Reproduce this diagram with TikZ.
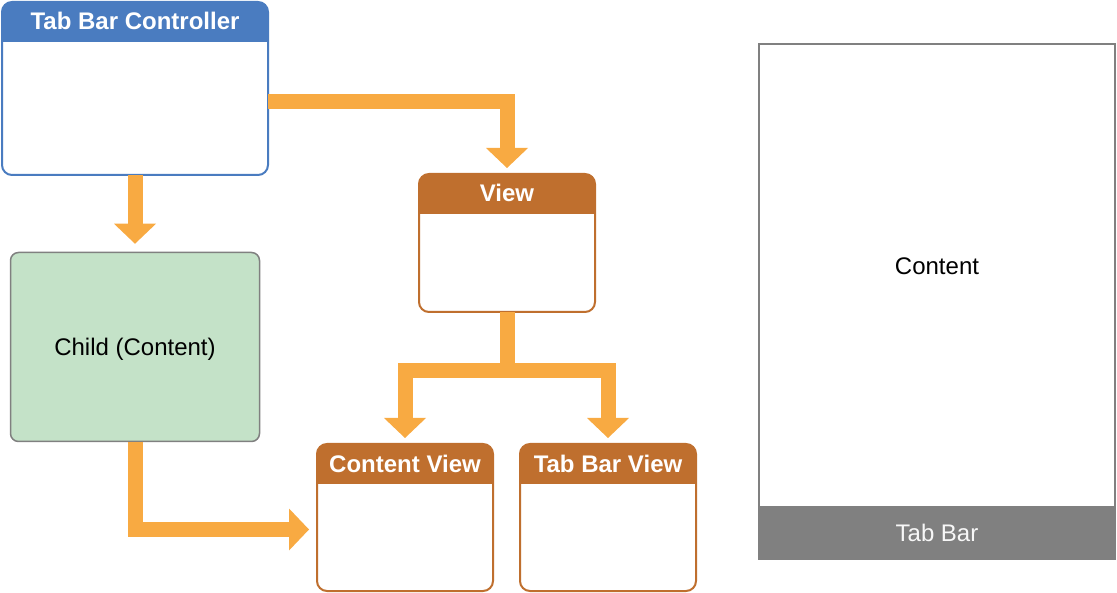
\documentclass[tikz,border=0pt]{standalone}
\usepackage{fontspec}
\setmainfont{Liberation Sans}
\usetikzlibrary{arrows.meta}
\definecolor{tbblue}{HTML}{4A7CC0}
\definecolor{vbrown}{HTML}{BF6F2E}
\definecolor{aorange}{HTML}{F8AA42}
\definecolor{cgreen}{HTML}{C4E2C8}
\definecolor{bgray}{HTML}{808080}
\begin{document}
\begin{tikzpicture}[x=1pt,y=-1pt,
  font=\fontsize{24}{28}\selectfont,
  win/.style={draw=#1, line width=2pt, rounded corners=10pt, fill=white,
    inner sep=0pt, outer sep=0pt,
    path picture={\fill[#1, sharp corners] (path picture bounding box.north west) rectangle
      ([yshift=-40pt]path picture bounding box.north east);}},
  wintitle/.style={anchor=base, text=white, inner sep=0pt,
    font=\fontsize{24}{28}\selectfont\bfseries},
  arr/.style={draw=aorange, line width=15pt, line join=miter,
    -{Triangle[width=42pt,length=20pt,line width=0pt]}}]
\useasboundingbox (0,0) rectangle (1117,593);

% windows
\node[win=tbblue, minimum width=266pt, minimum height=173pt] (tbc) at (135,88.5) {};
\node[wintitle] (tbct) at ([yshift=-28pt]tbc.north) {Tab Bar Controller};

\node[win=vbrown, minimum width=176pt, minimum height=138pt] (view) at (507,243) {};
\node[wintitle] (viewt) at ([yshift=-28pt]view.north) {View};

\node[win=vbrown, minimum width=176pt, minimum height=147pt] (cv) at (405,517.5) {};
\node[wintitle] (cvt) at ([yshift=-28pt]cv.north) {Content View};

\node[win=vbrown, minimum width=176pt, minimum height=147pt] (tbv) at (608,517.5) {};
\node[wintitle] (tbvt) at ([yshift=-28pt]tbv.north) {Tab Bar View};

\node[draw=bgray, line width=1.5pt, fill=cgreen, rounded corners=8pt,
  minimum width=249pt, minimum height=189pt, inner sep=0pt] (child) at (135,347) {};
\node[inner sep=0pt] (childt) at (135,349) {Child (Content)};

% phone
\node[draw=bgray, line width=2pt, fill=white, minimum width=356pt,
  minimum height=515pt, inner sep=0pt] (phone) at (937,301.5) {};
\node[fill=bgray, minimum width=358pt, minimum height=54pt, inner sep=0pt,
  text=white!97!black] (tabbar) at (937,533) {Tab Bar};
\node[inner sep=0pt] (content) at (937,266) {Content};

% connectors
\coordinate (yA) at (0,102);
\coordinate (yB) at (0,370.5);
\coordinate (yC) at (0,529.5);
\coordinate (cvin) at ([xshift=-8pt]cv.west);

\draw[arr] (tbc.south) -- ([yshift=8pt]child.north);
\draw[arr] (tbc.east |- yA) -- (view.north |- yA) -- ([yshift=6pt]view.north);
\draw[arr] (view.south) -- (view.south |- yB) -- (cv.north |- yB) -- ([yshift=6pt]cv.north);
\draw[arr] (view.south |- yB) -- (tbv.north |- yB) -- ([yshift=6pt]tbv.north);
\draw[arr] (child.south) -- (child.south |- yC) -- (cvin |- yC);
\end{tikzpicture}
\end{document}
